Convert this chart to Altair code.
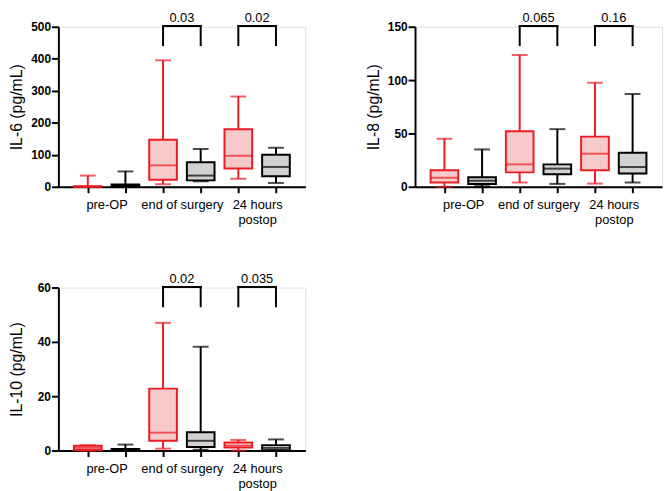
import altair as alt
import pandas as pd

# ---------------- data ----------------
CATEGORIES = ["pre-OP", "end of surgery", "24 hours\npostop"]
GROUPS = ["group 1", "group 2"]
SLOTS = [1, 2, 3, 4, 5, 6]
SLOT_GROUP = ["group 1", "group 2", "group 1", "group 2", "group 1", "group 2"]
CATEGORY_CENTERS = [1.5, 3.5, 5.5]
PAIRS_LEFT = [3, 5]
PAIRS_RIGHT = [4, 6]

IL6_MIN = [0, 0, 8, 17, 25, 12]
IL6_Q1 = [0, 1, 22, 20, 57, 33]
IL6_MED = [0.5, 3, 67, 35, 97, 62]
IL6_Q3 = [2, 7, 147, 77, 180, 100]
IL6_MAX = [35, 48, 395, 118, 282, 122]
IL6_P = ["0.03", "0.02"]
IL6_TICKS = [0, 100, 200, 300, 400, 500]

IL8_MIN = [0, 0.5, 4, 2.7, 3, 4]
IL8_Q1 = [4, 2.7, 13.5, 11.7, 15.5, 12.5]
IL8_MED = [8.5, 5.7, 21, 17, 31, 18.5]
IL8_Q3 = [15.4, 9, 52, 21, 47, 32]
IL8_MAX = [45, 35, 123.5, 54, 97.5, 87]
IL8_P = ["0.065", "0.16"]
IL8_TICKS = [0, 50, 100, 150]

IL10_MIN = [0, 0, 0.7, 0.3, 0, 0]
IL10_Q1 = [0.2, 0.2, 3.6, 1.3, 1.1, 0.1]
IL10_MED = [1, 0.4, 6.6, 3.6, 1.8, 1]
IL10_Q3 = [1.8, 0.6, 22.8, 6.7, 3.0, 2.0]
IL10_MAX = [2.0, 2.2, 47, 38.2, 3.9, 4.1]
IL10_P = ["0.02", "0.035"]
IL10_TICKS = [0, 20, 40, 60]

STROKES = ["#ec1c24", "#000000"]
FILLS = ["#f6caca", "#d2d2d2"]
FONT = "Liberation Sans"


def x_label_expr():
    parts = []
    for c, lab in zip(CATEGORY_CENTERS, CATEGORIES):
        parts.append("datum.value == %s ? split('%s', '|')" % (c, lab.replace("\n", "|")))
    return " : ".join(parts) + " : ''"


def panel(title, mins, q1, med, q3, maxs, pvals, ticks, height):
    ymax = ticks[-1]
    df = pd.DataFrame({"slot": SLOTS, "grp": SLOT_GROUP, "lo": mins, "q1": q1,
                       "med": med, "q3": q3, "hi": maxs})
    br = pd.DataFrame({"x1": PAIRS_LEFT, "x2": PAIRS_RIGHT, "p": pvals})
    br["xm"] = (br["x1"] + br["x2"]) / 2
    br["yt"] = ymax * 1.004
    br["yb"] = ymax * 0.885

    xs = alt.Scale(domain=[0.35, 6.65], nice=False, zero=False)
    ys = alt.Scale(domain=[0, ymax], nice=False, zero=True)
    x_axis = alt.Axis(
        values=sorted(SLOTS + CATEGORY_CENTERS), labelExpr=x_label_expr(),
        grid=False, tickSize=6, tickWidth=2, tickColor="black",
        tickOpacity={"condition": {"test": "datum.value % 1 !== 0", "value": 0}, "value": 1},
        domainWidth=2, domainColor="black", labelFont=FONT, labelFontSize=13,
        labelColor="black", labelPadding=6, labelLineHeight=15,
        labelFlush=False, labelOverlap=False, labelBound=False, title=None)
    y_axis = alt.Axis(
        values=ticks, grid=False, tickSize=7, tickWidth=2, tickColor="black",
        domainWidth=2, domainColor="black", labelFont=FONT, labelFontSize=12,
        labelFontWeight="bold", labelColor="black", labelPadding=1,
        minExtent=30, maxExtent=30, title=title, titleFont=FONT,
        titleFontSize=16, titleFontWeight="normal", titleColor="black",
        titlePadding=4)

    def X(f):
        return alt.X(f, type="quantitative", scale=xs, axis=x_axis)

    def Y(f):
        return alt.Y(f, type="quantitative", scale=ys, axis=y_axis)

    stroke = alt.Color("grp:N", scale=alt.Scale(domain=GROUPS, range=STROKES), legend=None)
    fill = alt.Fill("grp:N", scale=alt.Scale(domain=GROUPS, range=FILLS), legend=None)
    base = alt.Chart(df)

    whisk_lo = base.mark_rule(strokeWidth=2).encode(x=X("slot"), y=Y("lo"), y2="q1", color=stroke)
    whisk_hi = base.mark_rule(strokeWidth=2).encode(x=X("slot"), y=Y("q3"), y2="hi", color=stroke)
    box = base.mark_bar(size=28, strokeWidth=2).encode(
        x=X("slot"), y=Y("q1"), y2="q3",
        stroke=alt.Stroke("grp:N", scale=alt.Scale(domain=GROUPS, range=STROKES), legend=None),
        fill=fill)
    median = base.mark_tick(orient="horizontal", size=28, thickness=2).encode(
        x=X("slot"), y=Y("med"), color=stroke)
    cap_lo = base.mark_tick(orient="horizontal", size=16, thickness=2).encode(
        x=X("slot"), y=Y("lo"), color=stroke)
    cap_hi = base.mark_tick(orient="horizontal", size=16, thickness=2).encode(
        x=X("slot"), y=Y("hi"), color=stroke)

    bb = alt.Chart(br)
    top_line = bb.mark_rule(strokeWidth=2, color="black", strokeCap="square").encode(
        x=X("x1"), x2="x2", y=Y("yt"))
    leg_l = bb.mark_rule(strokeWidth=2, color="black", strokeCap="square").encode(
        x=X("x1"), y=Y("yb"), y2="yt")
    leg_r = bb.mark_rule(strokeWidth=2, color="black", strokeCap="square").encode(
        x=X("x2"), y=Y("yb"), y2="yt")
    ptext = bb.mark_text(font=FONT, fontSize=13, color="black", dy=-4,
                         baseline="alphabetic", align="center").encode(
        x=X("xm"), y=Y("yt"), text="p:N")

    return alt.layer(whisk_lo, whisk_hi, box, median, cap_lo, cap_hi,
                     top_line, leg_l, leg_r, ptext).properties(width=250, height=height)


p1 = panel("IL-6 (pg/mL)", IL6_MIN, IL6_Q1, IL6_MED, IL6_Q3, IL6_MAX, IL6_P, IL6_TICKS, 162)
p2 = panel("IL-8 (pg/mL)", IL8_MIN, IL8_Q1, IL8_MED, IL8_Q3, IL8_MAX, IL8_P, IL8_TICKS, 162)
p3 = panel("IL-10 (pg/mL)", IL10_MIN, IL10_Q1, IL10_MED, IL10_Q3, IL10_MAX, IL10_P, IL10_TICKS, 165)

chart = alt.vconcat(alt.hconcat(p1, p2, spacing=59), p3, spacing=45).properties(
    padding=0).configure_view(stroke=None).configure(background="white")

chart.save("out.html", embed_options={"renderer": "svg", "actions": False})
